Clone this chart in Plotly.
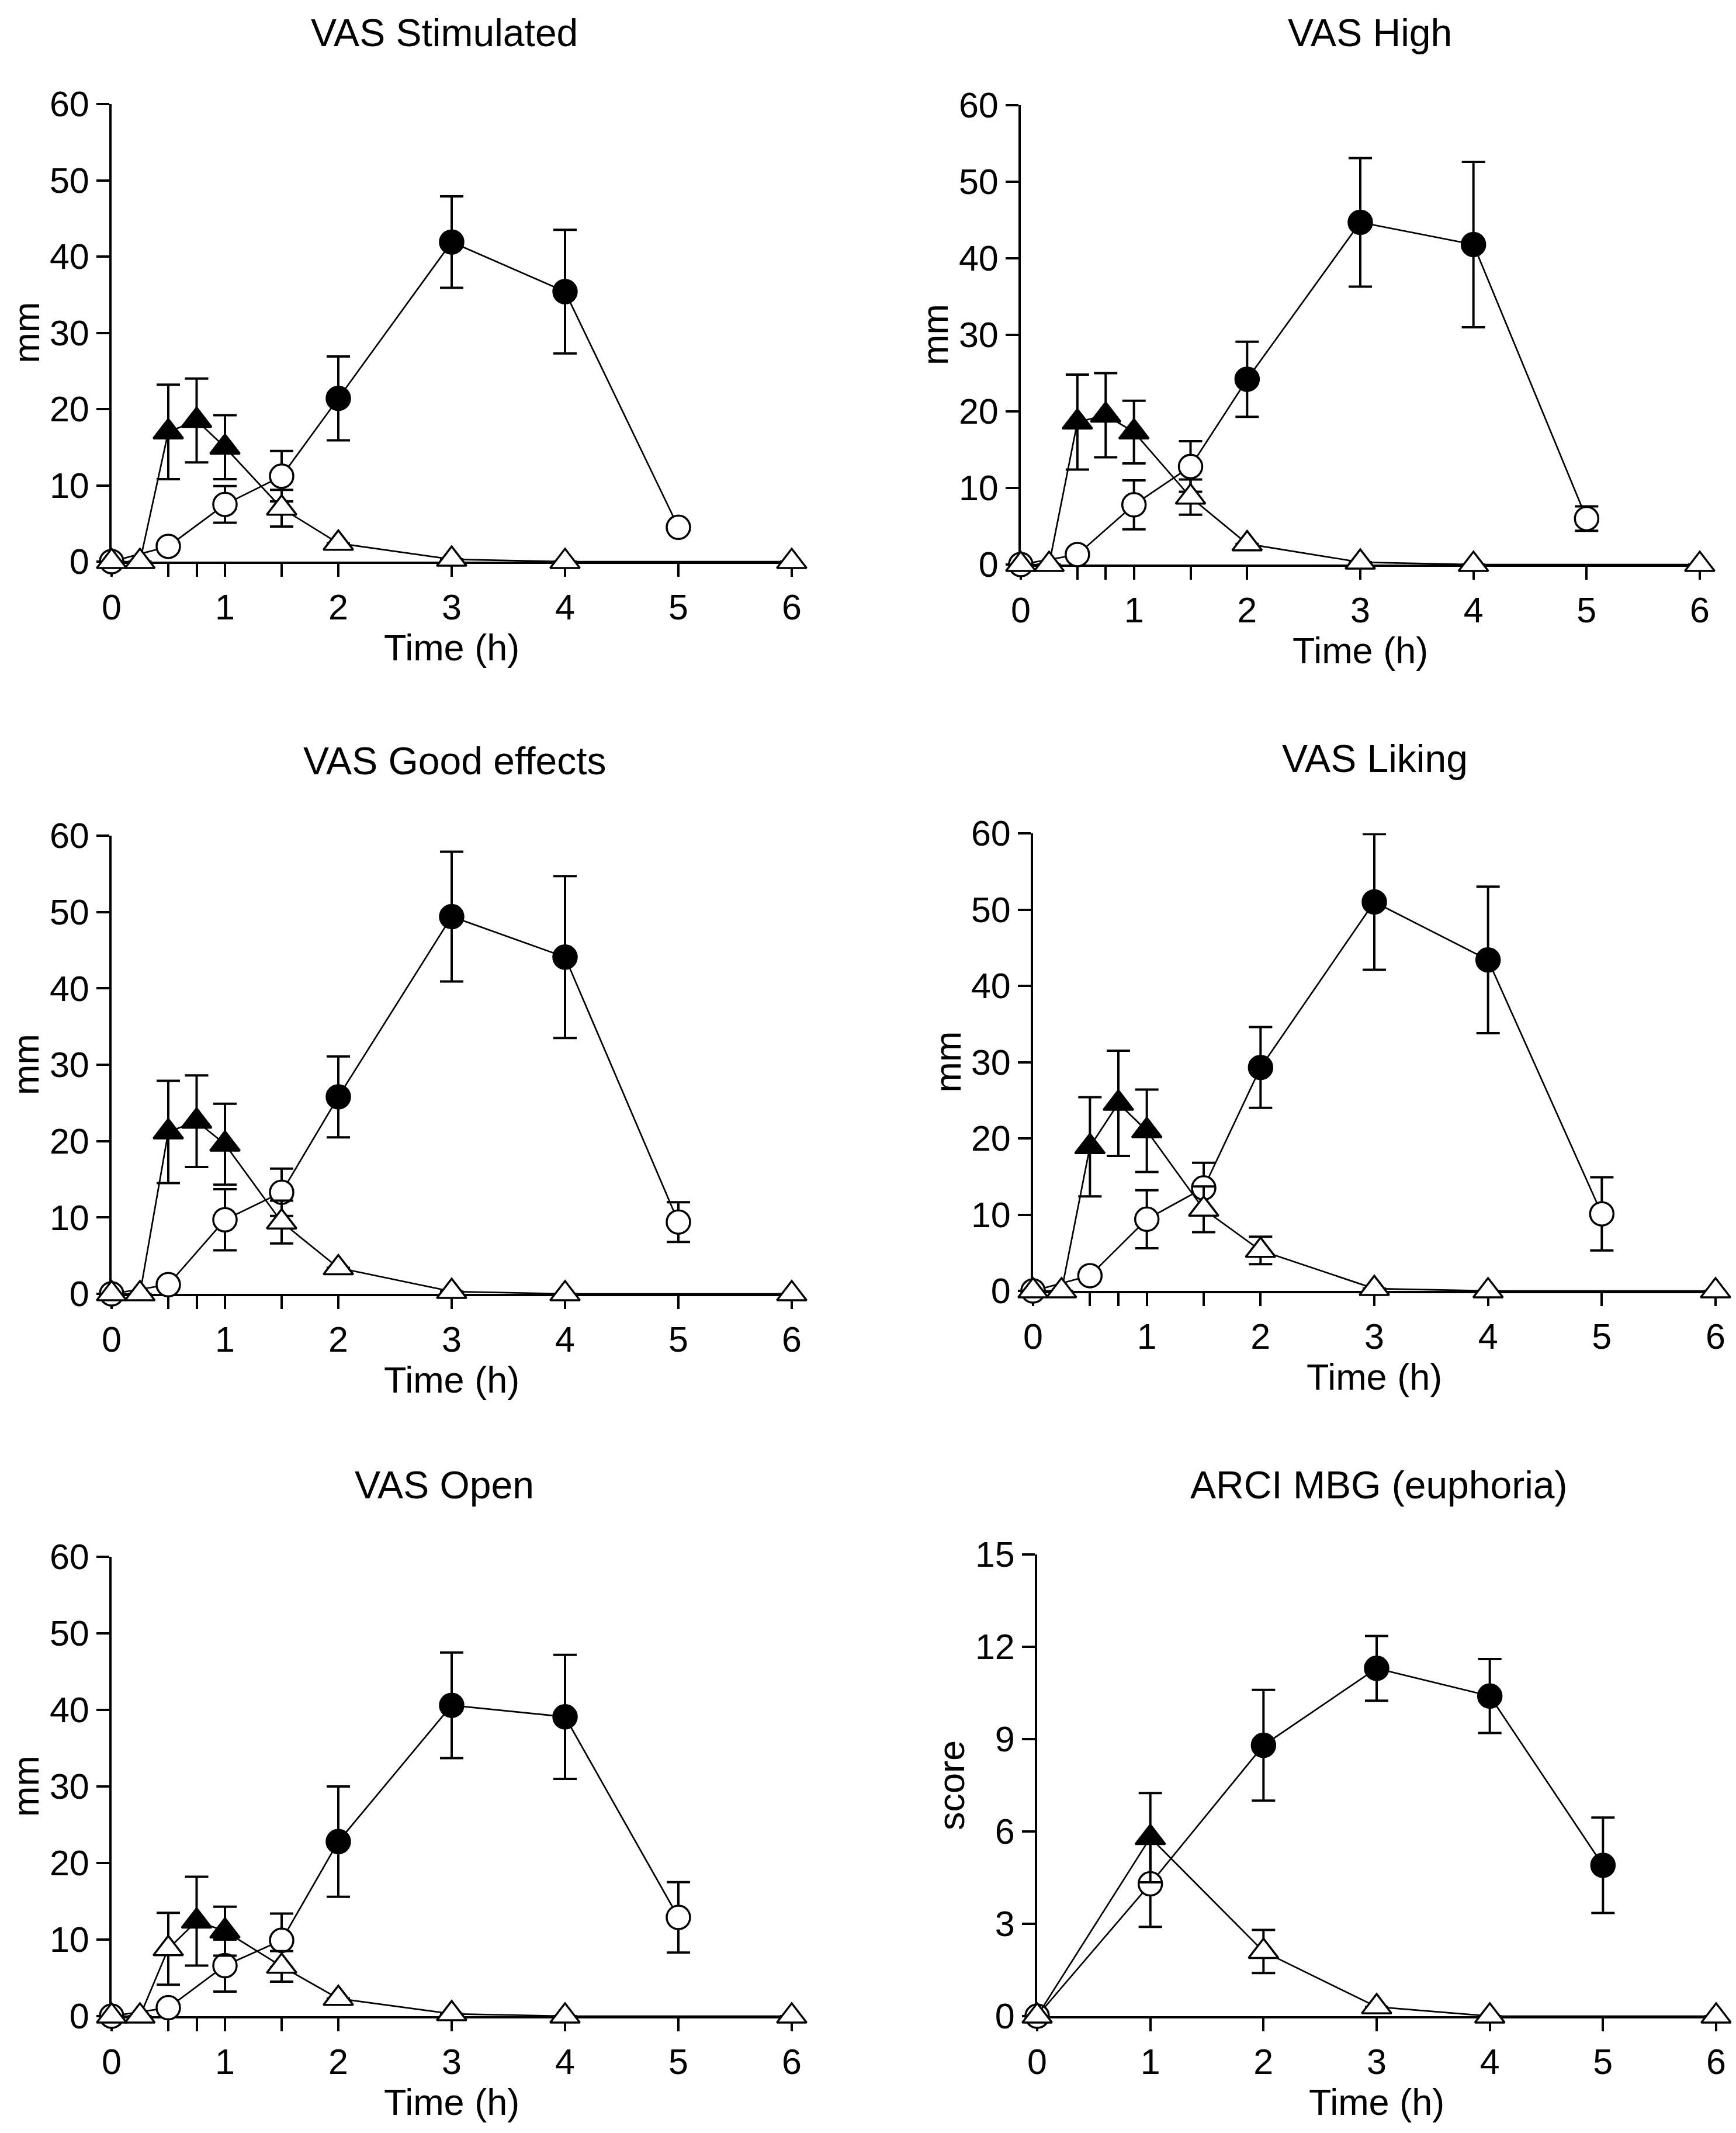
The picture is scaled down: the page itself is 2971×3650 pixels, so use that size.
import plotly.graph_objects as go

# ---- time points (h) ----
T_CIRCLE = [0, 0.5, 1, 1.5, 2, 3, 4, 5]
T_TRIANGLE = [0, 0.25, 0.5, 0.75, 1, 1.5, 2, 3, 4, 6]
T_CIRCLE_ARCI = [0, 1, 2, 3, 4, 5]
T_TRIANGLE_ARCI = [0, 1, 2, 3, 4, 6]

PANEL_TITLES = ["VAS Stimulated", "VAS High", "VAS Good effects",
                "VAS Liking", "VAS Open", "ARCI MBG (euphoria)"]
Y_TITLES = ["mm", "mm", "mm", "mm", "mm", "score"]
X_TITLE = "Time (h)"

# ---- VAS Stimulated ----
stim_circle = [0, 2.0, 7.5, 11.2, 21.4, 41.9, 35.4, 4.5]
stim_circle_err = [0, 0, 2.4, 3.3, 5.5, 6.0, 8.1, 0]
stim_circle_fill = [0, 0, 0, 0, 1, 1, 1, 0]
stim_tri = [0, 0, 17.0, 18.5, 15.0, 7.0, 2.4, 0.3, 0, 0]
stim_tri_err = [0, 0, 6.2, 5.5, 4.2, 2.4, 0, 0, 0, 0]
stim_tri_fill = [0, 0, 1, 1, 1, 0, 0, 0, 0, 0]

# ---- VAS High ----
high_circle = [0, 1.3, 7.8, 12.8, 24.2, 44.7, 41.8, 6.0]
high_circle_err = [0, 0, 3.2, 3.3, 4.9, 8.4, 10.8, 1.6]
high_circle_fill = [0, 0, 0, 0, 1, 1, 1, 0]
high_tri = [0, 0, 18.6, 19.5, 17.3, 8.8, 2.7, 0.3, 0, 0]
high_tri_err = [0, 0, 6.2, 5.5, 4.1, 2.3, 0, 0, 0, 0]
high_tri_fill = [0, 0, 1, 1, 1, 0, 0, 0, 0, 0]

# ---- VAS Good effects ----
good_circle = [0, 1.2, 9.7, 13.3, 25.8, 49.4, 44.1, 9.4]
good_circle_err = [0, 0, 4.0, 3.1, 5.3, 8.5, 10.6, 2.6]
good_circle_fill = [0, 0, 0, 0, 1, 1, 1, 0]
good_tri = [0, 0, 21.2, 22.6, 19.6, 9.4, 3.4, 0.3, 0, 0]
good_tri_err = [0, 0, 6.7, 6.0, 5.3, 2.8, 0, 0, 0, 0]
good_tri_fill = [0, 0, 1, 1, 1, 0, 0, 0, 0, 0]

# ---- VAS Liking ----
like_circle = [0, 2.0, 9.4, 13.5, 29.3, 51.0, 43.4, 10.1]
like_circle_err = [0, 0, 3.8, 3.3, 5.3, 8.9, 9.6, 4.8]
like_circle_fill = [0, 0, 0, 0, 1, 1, 1, 0]
like_tri = [0, 0, 18.9, 24.6, 21.0, 10.7, 5.3, 0.3, 0, 0]
like_tri_err = [0, 0, 6.5, 6.9, 5.4, 3.0, 1.8, 0, 0, 0]
like_tri_fill = [0, 0, 1, 1, 1, 0, 0, 0, 0, 0]

# ---- VAS Open ----
open_circle = [0, 1.1, 6.6, 9.9, 22.8, 40.6, 39.1, 12.9]
open_circle_err = [0, 0, 3.4, 3.5, 7.2, 6.9, 8.1, 4.6]
open_circle_fill = [0, 0, 0, 0, 1, 1, 1, 0]
open_tri = [0, 0, 8.8, 12.4, 11.1, 6.5, 2.3, 0.3, 0, 0]
open_tri_err = [0, 0, 4.7, 5.8, 3.2, 2.0, 0, 0, 0, 0]
open_tri_fill = [0, 0, 0, 1, 1, 0, 0, 0, 0, 0]

# ---- ARCI MBG ----
mbg_circle = [0, 4.3, 8.8, 11.3, 10.4, 4.9]
mbg_circle_err = [0, 1.4, 1.8, 1.05, 1.2, 1.55]
mbg_circle_fill = [0, 0, 1, 1, 1, 1]
mbg_tri = [0, 5.8, 2.1, 0.3, 0, 0]
mbg_tri_err = [0, 1.45, 0.7, 0, 0, 0]
mbg_tri_fill = [0, 1, 0, 0, 0, 0]

VAS_TICKS = [0, 0.5, 0.75, 1, 1.5, 2, 3, 4, 5, 6]
VAS_TICKTEXT = ["0", "", "", "1", "", "2", "3", "4", "5", "6"]
ARCI_TICKS = [0, 1, 2, 3, 4, 5, 6]
VAS_YTICKS = [0, 10, 20, 30, 40, 50, 60]
ARCI_YTICKS = [0, 3, 6, 9, 12, 15]

panels = [
    (T_CIRCLE, stim_circle, stim_circle_err, stim_circle_fill,
     T_TRIANGLE, stim_tri, stim_tri_err, stim_tri_fill),
    (T_CIRCLE, high_circle, high_circle_err, high_circle_fill,
     T_TRIANGLE, high_tri, high_tri_err, high_tri_fill),
    (T_CIRCLE, good_circle, good_circle_err, good_circle_fill,
     T_TRIANGLE, good_tri, good_tri_err, good_tri_fill),
    (T_CIRCLE, like_circle, like_circle_err, like_circle_fill,
     T_TRIANGLE, like_tri, like_tri_err, like_tri_fill),
    (T_CIRCLE, open_circle, open_circle_err, open_circle_fill,
     T_TRIANGLE, open_tri, open_tri_err, open_tri_fill),
    (T_CIRCLE_ARCI, mbg_circle, mbg_circle_err, mbg_circle_fill,
     T_TRIANGLE_ARCI, mbg_tri, mbg_tri_err, mbg_tri_fill),
]

W, H = 2971, 3650
FONT = "Liberation Sans, Arial, sans-serif"
LINE_W = 2.7
AXIS_W = 4

# plot boxes in pixels (left, right, top, bottom), measured on the original
BOXES = [(183, 1347, 170, 953), (1739, 2901, 172, 958),
         (183, 1347, 1422, 2206), (1760, 2928, 1418, 2201),
         (183, 1347, 2656, 3442), (1767, 2929, 2652, 3442)]
TITLE_POS = [(752, 48), (2336, 48), (770, 1294),
             (2345, 1290), (752, 2533), (2352, 2533)]
AXIS_TITLE_GAP = 147


def fills(flags):
    return ["black" if f else "white" for f in flags]


def series(x, y, err, fill, symbol, size, ax):
    return go.Scatter(
        x=x, y=y, xaxis="x" + ax, yaxis="y" + ax,
        mode="lines+markers",
        line=dict(color="black", width=LINE_W),
        marker=dict(symbol=symbol, size=size, color=fills(fill),
                    line=dict(color="black", width=3.5)),
        error_y=dict(type="data", array=err, visible=True, color="black",
                     thickness=4, width=20),
        cliponaxis=False, showlegend=False,
    )


fig = go.Figure()
layout = dict(
    width=W, height=H,
    margin=dict(l=0, r=0, t=0, b=0),
    paper_bgcolor="white", plot_bgcolor="white",
    font=dict(family=FONT, color="black", size=60),
    showlegend=False,
)

annotations = []
for i, p in enumerate(panels):
    ax = "" if i == 0 else str(i + 1)
    tc, yc, ec, fc, tt, yt, et, ft = p
    fig.add_trace(series(tc, yc, ec, fc, "circle", 40, ax))
    fig.add_trace(series(tt, yt, et, ft, "triangle-up", 44, ax))

    l, r, t, b = BOXES[i]
    arci = i == 5
    layout["xaxis" + ax] = dict(
        domain=[l / W, r / W], anchor="y" + ax, range=[0, 6],
        tickvals=ARCI_TICKS if arci else VAS_TICKS,
        ticktext=[str(v) for v in ARCI_TICKS] if arci else VAS_TICKTEXT,
        ticks="outside", ticklen=22, tickwidth=AXIS_W, tickcolor="black",
        showline=True, linewidth=AXIS_W, linecolor="black",
        showgrid=False, zeroline=False, automargin=False,
        layer="below traces", tickfont=dict(size=61),
    )
    layout["yaxis" + ax] = dict(
        domain=[1 - b / H, 1 - t / H], anchor="x" + ax,
        range=[0, 15] if arci else [0, 60],
        tickvals=ARCI_YTICKS if arci else VAS_YTICKS,
        ticks="outside", ticklen=22, tickwidth=AXIS_W, tickcolor="black",
        showline=True, linewidth=AXIS_W, linecolor="black",
        showgrid=False, zeroline=False, automargin=False,
        layer="below traces", tickfont=dict(size=61),
    )

    px, py = TITLE_POS[i]
    annotations.append(dict(
        text=PANEL_TITLES[i], x=px / W, y=1 - py / H,
        xref="paper", yref="paper", xanchor="center", yanchor="middle",
        showarrow=False, font=dict(size=66),
    ))
    # x axis title
    annotations.append(dict(
        text=X_TITLE, x=(l + r) / 2 / W, y=1 - (b + AXIS_TITLE_GAP) / H,
        xref="paper", yref="paper", xanchor="center", yanchor="middle",
        showarrow=False, font=dict(size=63),
    ))
    # y axis title
    annotations.append(dict(
        text=Y_TITLES[i], x=(l - AXIS_TITLE_GAP) / W, y=1 - (t + b) / 2 / H,
        xref="paper", yref="paper", xanchor="center", yanchor="middle",
        textangle=-90, showarrow=False, font=dict(size=63),
    ))

layout["annotations"] = annotations
fig.update_layout(**layout)
fig.write_html("out.html")
